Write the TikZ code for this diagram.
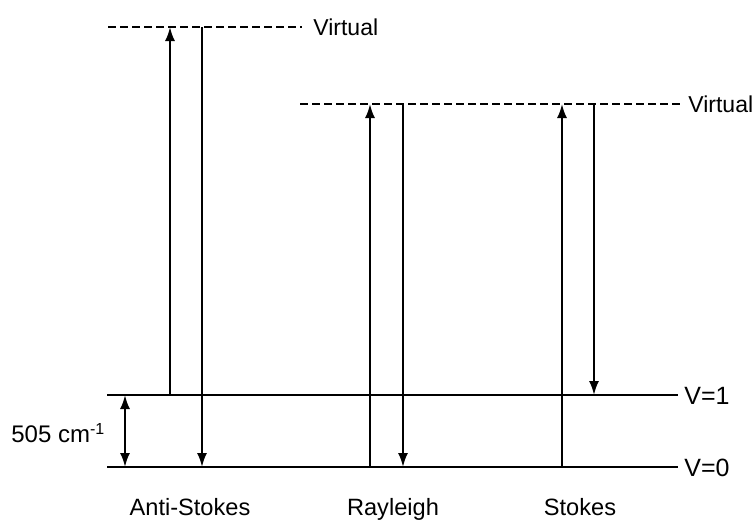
\documentclass[tikz,border=0pt]{standalone}
\usepackage{fontspec}
\setmainfont{Liberation Sans}
\usetikzlibrary{arrows.meta}
\begin{document}
\begin{tikzpicture}[x=0.5pt,y=-0.5pt,
	level/.style={line width=1.4pt},
	virt/.style={line width=1pt,dash pattern=on 4pt off 2pt},
	trans/.style={line width=1pt,-{Latex[length=7pt,width=5pt]}},
	lbl/.style={font=\fontsize{11.8}{14}\selectfont,inner sep=0pt,anchor=base},
	side/.style={font=\fontsize{11.5}{13}\selectfont,inner sep=0pt,anchor=west}]
\useasboundingbox (0,0) rectangle (755,520);
% levels
\coordinate (v0l) at (107,467);
\coordinate (v0r) at (678,467);
\coordinate (v1l) at (107,395);
\coordinate (v1r) at (678,395);
\coordinate (hil) at (108,27);
\coordinate (hir) at (302,27);
\coordinate (lol) at (300,104);
\coordinate (lor) at (680,104);
\draw[level] (v0l) -- (v0r);
\draw[level] (v1l) -- (v1r);
\draw[virt] (hil) -- (hir);
\draw[virt] (lol) -- (lor);
\node[side] (hitext) at (313,27) {Virtual};
\node[side] (lotext) at (688,104) {Virtual};
\node[side,font=\fontsize{12.5}{14}\selectfont] (v1text) at (684,396) {V=1};
\node[side,font=\fontsize{12.5}{14}\selectfont] (v0text) at (684,468) {V=0};
% transitions
\foreach \n/\up/\dn/\start/\top/\bot in {as/170/202/395/27/467, ra/370/403/467/104/467, st/562/594/467/104/395}
{
	\coordinate (\n-ua) at (\up,\start);
	\coordinate (\n-ub) at (\up,\top);
	\coordinate (\n-da) at (\dn,\top);
	\coordinate (\n-db) at (\dn,\bot);
	\draw[trans] (\n-ua) -- (\n-ub);
	\draw[trans] (\n-da) -- (\n-db);
}
% gap
\coordinate (gapt) at (125,395);
\coordinate (gapb) at (125,467);
\draw[line width=1pt,{Latex[length=7pt,width=5pt]}-{Latex[length=7pt,width=5pt]}] (gapt) -- (gapb);
\node[side,font=\fontsize{12}{14}\selectfont] (gaptext) at (11,433) {505 cm\textsuperscript{-1}};
\node[lbl] (astext) at (190,515) {Anti-Stokes};
\node[lbl] (ratext) at (393,515) {Rayleigh};
\node[lbl] (sttext) at (580,515) {Stokes};
\end{tikzpicture}
\end{document}
